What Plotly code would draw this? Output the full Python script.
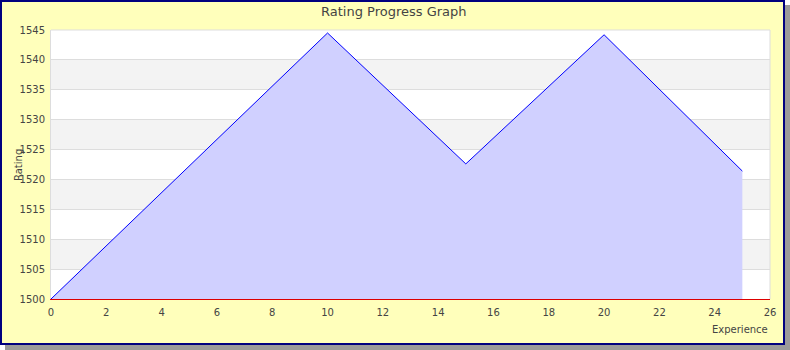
import plotly.graph_objects as go

# Data
experience = [0, 10, 15, 20, 25]
rating = [1500, 1544.5, 1522.6, 1544.2, 1521.4]
x_ticks = list(range(0, 27, 2))
y_ticks = list(range(1500, 1546, 5))

W, H = 790, 350
L, R, T, B = 51, 770, 30, 299
pw, ph = R - L, B - T

def px(x):
    return (x - L) / pw

def py(y):
    return (B - y) / ph

FONT = "DejaVu Sans"
TXT = "#444444"

fig = go.Figure()
fig.add_trace(go.Scatter(
    x=experience, y=rating, mode="lines",
    line=dict(color="#0000FF", width=1),
    fill="tozeroy", fillcolor="#D0D0FF",
    hoverinfo="skip", showlegend=False,
))

shapes = []
# shadow
shapes.append(dict(type="rect", xref="paper", yref="paper", layer="below",
                   x0=px(5), x1=px(790), y0=py(5), y1=py(350),
                   fillcolor="#9a9a9a", line=dict(width=0)))
# frame
shapes.append(dict(type="rect", xref="paper", yref="paper", layer="below",
                   x0=px(1), x1=px(784), y0=py(1), y1=py(344),
                   fillcolor="#FFFFBB", line=dict(color="#00007F", width=2)))
# plot area
shapes.append(dict(type="rect", xref="paper", yref="paper", layer="below",
                   x0=0, x1=1, y0=0, y1=1,
                   fillcolor="#FFFFFF", line=dict(width=0)))
# bands
for i in range(len(y_ticks) - 1):
    if i % 2 == 1:
        shapes.append(dict(type="rect", xref="paper", yref="y", layer="below",
                           x0=0, x1=1, y0=y_ticks[i], y1=y_ticks[i + 1],
                           fillcolor="#F3F3F3", line=dict(width=0)))
# right & top border
shapes.append(dict(type="line", xref="paper", yref="paper", layer="above",
                   x0=1, x1=1, y0=0, y1=1, line=dict(color="#DDDDDD", width=1)))
shapes.append(dict(type="line", xref="paper", yref="paper", layer="above",
                   x0=0, x1=1, y0=1, y1=1, line=dict(color="#DDDDDD", width=1)))

fig.update_layout(
    width=W, height=H,
    margin=dict(l=L, r=W - R, t=T, b=H - B, pad=0),
    paper_bgcolor="#FFFFFF",
    plot_bgcolor="rgba(0,0,0,0)",
    shapes=shapes,
    font=dict(family=FONT, size=10, color=TXT),
    showlegend=False,
    annotations=[
        dict(text="Rating Progress Graph", xref="paper", yref="paper",
             x=px(394), y=py(11), xanchor="center", yanchor="middle",
             showarrow=False, font=dict(size=13, color=TXT, family=FONT)),
        dict(text="Experience", xref="paper", yref="paper",
             x=px(770), y=py(329), xanchor="right", yanchor="middle",
             showarrow=False, font=dict(size=10, color=TXT, family=FONT)),
        dict(text="Rating", xref="paper", yref="paper",
             x=px(18), y=py(165), xanchor="center", yanchor="middle",
             textangle=-90, showarrow=False,
             font=dict(size=10, color=TXT, family=FONT)),
    ],
)
fig.update_xaxes(
    range=[0, 26], tickvals=x_ticks, ticktext=[str(v) for v in x_ticks],
    showgrid=False, zeroline=False, showline=True, linecolor="#DD0000",
    linewidth=1, ticks="", ticklabelstandoff=4,
    tickfont=dict(size=10, color=TXT, family=FONT),
)
fig.update_yaxes(
    range=[1500, 1545], tickvals=y_ticks, ticktext=[str(v) for v in y_ticks],
    showgrid=True, gridcolor="#DDDDDD", gridwidth=1,
    zeroline=False, showline=True, linecolor="#DDDDDD", linewidth=1,
    ticks="", ticklabelstandoff=3,
    tickfont=dict(size=10, color=TXT, family=FONT),
)

fig.write_html("out.html")
